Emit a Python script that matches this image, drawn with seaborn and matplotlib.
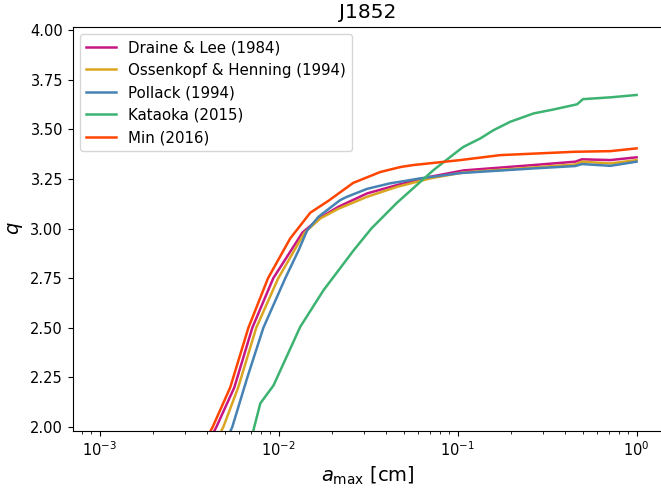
import numpy as np
import pandas as pd
import matplotlib
matplotlib.use("Agg")
import matplotlib.pyplot as plt
import matplotlib.ticker as mticker
import seaborn as sns

# ---- data (a_max in cm, q) ----
models = ["Draine & Lee (1984)", "Ossenkopf & Henning (1994)", "Pollack (1994)",
          "Kataoka (2015)", "Min (2016)"]
colors = ["#C71585", "#DAA520", "#4682B4", "#3CB371", "#FF4500"]

draine_x = [0.0042, 0.00449, 0.00566, 0.00713, 0.00934, 0.0136, 0.0171, 0.0216,
            0.0312, 0.0458, 0.0704, 0.108, 0.2658, 0.4545, 0.4959, 0.7133, 1.0]
draine_y = [1.95, 2.00, 2.20, 2.50, 2.75, 2.98, 3.055, 3.11,
            3.177, 3.219, 3.261, 3.293, 3.32, 3.337, 3.349, 3.345, 3.359]

ossen_x = [0.0046, 0.00491, 0.00595, 0.0075, 0.00996, 0.01398, 0.0171, 0.0216,
           0.0312, 0.0458, 0.0704, 0.108, 0.2658, 0.4545, 0.4959, 0.7133, 1.0]
ossen_y = [1.95, 2.00, 2.20, 2.50, 2.75, 2.98, 3.051, 3.10,
           3.16, 3.21, 3.253, 3.283, 3.308, 3.323, 3.337, 3.328, 3.345]

pollack_x = [0.0052, 0.00551, 0.00669, 0.00822, 0.0109, 0.01293, 0.01442, 0.01673,
             0.02213, 0.0241, 0.0312, 0.042, 0.0479, 0.0619,
             0.105, 0.2658, 0.4545, 0.4959, 0.7133, 1.0]
pollack_y = [1.95, 2.00, 2.25, 2.50, 2.75, 2.89, 2.99, 3.06,
             3.144, 3.16, 3.20, 3.228, 3.236, 3.253,
             3.28, 3.303, 3.315, 3.325, 3.316, 3.337]

kataoka_x = [0.0071, 0.00731, 0.00791, 0.00937, 0.01321, 0.01784, 0.02624, 0.03296,
             0.04584, 0.06457, 0.07345, 0.1035, 0.1081, 0.1339, 0.1589, 0.1969, 0.2658,
             0.3439, 0.465, 0.5019, 0.7133, 1.0]
kataoka_y = [1.95, 2.00, 2.12, 2.21, 2.505, 2.69, 2.89, 3.00,
             3.13, 3.25, 3.295, 3.40, 3.412, 3.454, 3.496, 3.538, 3.58,
             3.60, 3.626, 3.652, 3.661, 3.673]

min_x = [0.0040, 0.00428, 0.00537, 0.00678, 0.00873, 0.01161, 0.01504, 0.0190,
         0.0261, 0.0370, 0.0479, 0.05656, 0.1035, 0.1733, 0.4545, 0.7133, 1.0]
min_y = [1.95, 2.00, 2.20, 2.50, 2.75, 2.95, 3.08, 3.14,
         3.23, 3.285, 3.31, 3.32, 3.345, 3.37, 3.387, 3.39, 3.404]

series_x = [draine_x, ossen_x, pollack_x, kataoka_x, min_x]
series_y = [draine_y, ossen_y, pollack_y, kataoka_y, min_y]

frames = []
for name, xs, ys in zip(models, series_x, series_y):
    frames.append(pd.DataFrame({"a_max": xs, "q": ys, "model": name}))
df = pd.concat(frames, ignore_index=True)

plt.rcParams["font.family"] = ["DejaVu Sans"]

fig = plt.figure(figsize=(6.61, 4.93), dpi=100)
ax = fig.add_axes([0.110, 0.1264, 0.8937, 0.8195])

sns.lineplot(data=df, x="a_max", y="q", hue="model", hue_order=models,
             palette=dict(zip(models, colors)), estimator=None, sort=False,
             linewidth=1.8, ax=ax)

ax.set_xscale("log")
ax.set_xlim(10 ** -3.15, 10 ** 0.15)
ax.set_ylim(1.982, 4.017)
ax.yaxis.set_major_locator(mticker.MultipleLocator(0.25))
ax.yaxis.set_major_formatter(mticker.FormatStrFormatter("%.2f"))
ax.tick_params(axis="both", labelsize=10.5)
ax.spines["right"].set_visible(False)

ax.set_xlabel(r"$a_{\rm max}$ [cm]", fontsize=14)
ax.set_ylabel(r"$q$", fontsize=14)
ax.set_title("J1852", fontsize=14.5)

leg = ax.legend(loc="upper left", fontsize=10.8, frameon=True)

fig.savefig("out.png", dpi=100)
